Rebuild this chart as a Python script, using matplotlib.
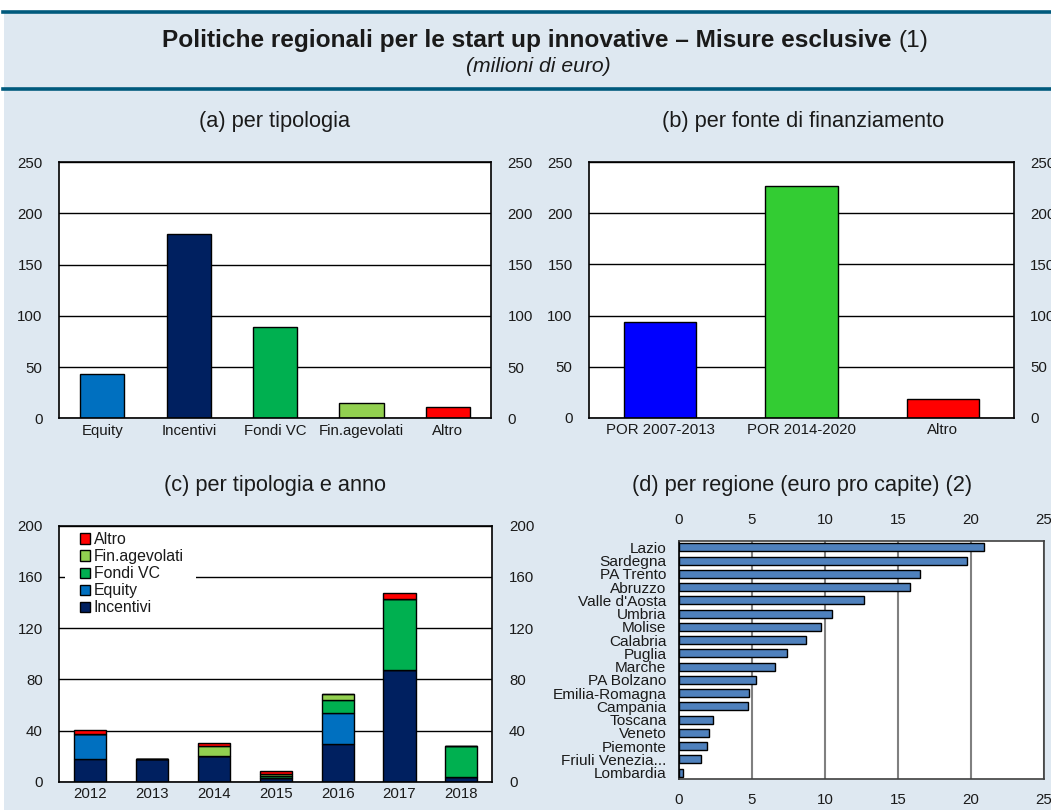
import matplotlib
matplotlib.use("Agg")
import matplotlib.pyplot as plt
from matplotlib.patches import Rectangle
from matplotlib.lines import Line2D
import numpy as np

plt.rcParams['font.family'] = ['Liberation Sans', 'DejaVu Sans']

# ---------------- data ----------------
tip_labels = ["Equity", "Incentivi", "Fondi VC", "Fin.agevolati", "Altro"]
tip_values = [43, 180, 89.5, 14.6, 10.7]

fonte_labels = ["POR 2007-2013", "POR 2014-2020", "Altro"]
fonte_values = [94, 226.5, 18.6]

anni = ["2012", "2013", "2014", "2015", "2016", "2017", "2018"]
anno_incentivi = [18, 17.7, 20, 2.6, 29.7, 87, 3.6]
anno_equity = [19.5, 0, 0, 0, 23.9, 0, 0]
anno_fondi_vc = [0, 0, 0, 1.5, 9.9, 56, 24.3]
anno_fin_agev = [0, 0, 7.8, 2.3, 4.7, 0, 0]
anno_altro = [3, 0, 2.3, 2.2, 0, 4.1, 0]

regioni = ["Lazio", "Sardegna", "PA Trento", "Abruzzo", "Valle d'Aosta", "Umbria",
           "Molise", "Calabria", "Puglia", "Marche", "PA Bolzano", "Emilia-Romagna",
           "Campania", "Toscana", "Veneto", "Piemonte", "Friuli Venezia...", "Lombardia"]
regioni_values = [20.9, 19.77, 16.54, 15.86, 12.7, 10.51, 9.76, 8.73, 7.43, 6.58,
                  5.3, 4.82, 4.75, 2.31, 2.03, 1.94, 1.49, 0.25]

# ---------------- styles ----------------
C_EQ = "#0070C0"
C_INC = "#002060"
C_FVC = "#00B050"
C_FIN = "#92D050"
C_ALT = "#FF0000"
BG = "#DEE8F1"
LINE = "#005A7D"
TXT = "#1a1a1a"

W, H = 1051, 810
fig = plt.figure(figsize=(W / 100, H / 100), dpi=100)
fig.patch.set_facecolor("white")


def rect(l, t, r, b):
    return [l / W, 1 - b / H, (r - l) / W, (b - t) / H]


# background
fig.patches.append(Rectangle((4 / W, 0), 1 - 4 / W, 1 - 12 / H, transform=fig.transFigure,
                             facecolor=BG, edgecolor="none", zorder=-10))
for yy in (12, 89):
    fig.lines.append(Line2D([3 / W, 1], [1 - yy / H, 1 - yy / H], transform=fig.transFigure,
                            color=LINE, lw=2.6, zorder=-5))

# main title: bold part + normal "(1)", centred as a whole at x=545
renderer = fig.canvas.get_renderer()
TFS = 17.6
tb = fig.text(0, 1 - 41 / H, "Politiche regionali per le start up innovative – Misure esclusive ",
              ha="left", va="center", fontsize=TFS, fontweight="bold", color=TXT)
tn = fig.text(0, 1 - 41 / H, "(1)", ha="left", va="center", fontsize=TFS, color=TXT)
wb = tb.get_window_extent(renderer).width
wn = tn.get_window_extent(renderer).width
x0 = 545 - (wb + wn) / 2
tb.set_x(x0 / W)
tn.set_x((x0 + wb) / W)
fig.text(538 / W, 1 - 66 / H, "(milioni di euro)", ha="center", va="center",
         fontsize=15.2, style="italic", color=TXT)

TICK_FS = 10.8
PT_FS = 15.7


def style_vbar(ax, ymax, step):
    ax.set_facecolor("white")
    ax.set_ylim(0, ymax)
    ticks = np.arange(0, ymax + 0.1, step)
    ax.set_yticks(ticks)
    ax.yaxis.grid(True, color="black", lw=1.0)
    ax.set_axisbelow(True)
    for s in ax.spines.values():
        s.set_color("black")
        s.set_linewidth(1.2)
    ax.tick_params(axis="y", length=0, pad=12, labelsize=TICK_FS, labelright=True, right=False,
                   labelcolor=TXT)
    ax.tick_params(axis="x", length=0, pad=4, labelsize=TICK_FS, labelcolor=TXT)


# (a)
ax_a = fig.add_axes(rect(59.3, 162.3, 491, 418.3))
xa = np.arange(len(tip_labels))
ax_a.bar(xa, tip_values, width=0.51, color=[C_EQ, C_INC, C_FVC, C_FIN, C_ALT],
         edgecolor="black", linewidth=1.0)
ax_a.set_xlim(-0.5, len(tip_labels) - 0.5)
ax_a.set_xticks(xa)
ax_a.set_xticklabels(tip_labels)
style_vbar(ax_a, 250, 50)
fig.text(275 / W, 1 - 121 / H, "(a) per tipologia", ha="center", va="center",
         fontsize=PT_FS, color=TXT)

# (b)
ax_b = fig.add_axes(rect(589.3, 162.3, 1013.7, 417.7))
xb = np.arange(len(fonte_labels))
ax_b.bar(xb, fonte_values, width=0.51, color=["#0000FF", "#33CC33", C_ALT],
         edgecolor="black", linewidth=1.0)
ax_b.set_xlim(-0.5, len(fonte_labels) - 0.5)
ax_b.set_xticks(xb)
ax_b.set_xticklabels(fonte_labels)
style_vbar(ax_b, 250, 50)
fig.text(803 / W, 1 - 121 / H, "(b) per fonte di finanziamento", ha="center", va="center",
         fontsize=PT_FS, color=TXT)

# (c)
ax_c = fig.add_axes(rect(59.3, 525.7, 492.3, 781.7))
xc = np.arange(len(anni))
series = [("Incentivi", anno_incentivi, C_INC), ("Equity", anno_equity, C_EQ),
          ("Fondi VC", anno_fondi_vc, C_FVC), ("Fin.agevolati", anno_fin_agev, C_FIN),
          ("Altro", anno_altro, C_ALT)]
bottom = np.zeros(len(anni))
handles = []
for name, vals, col in series:
    vals = np.array(vals, dtype=float)
    b = ax_c.bar(xc, vals, width=0.52, bottom=bottom, color=col, edgecolor="black",
                 linewidth=1.0, label=name, zorder=2)
    handles.append(b)
    bottom += vals
ax_c.set_xlim(-0.5, len(anni) - 0.5)
ax_c.set_xticks(xc)
ax_c.set_xticklabels(anni)
style_vbar(ax_c, 200, 40)
# white background behind the legend (hides the gridline there)
ax_c.add_patch(Rectangle(((65 - 59.3) / 433, 0.66), (196 - 65) / 433, 0.30,
                         transform=ax_c.transAxes, facecolor="white", edgecolor="none",
                         zorder=1))
leg = ax_c.legend(handles[::-1], [s[0] for s in series][::-1], loc="upper left",
                  bbox_to_anchor=((80 - 59.3) / 433, 0.975), fontsize=11.4, frameon=False,
                  handlelength=0.62, handleheight=0.62, handletextpad=0.25,
                  labelspacing=0.13, borderpad=0.0, borderaxespad=0.0)
for t in leg.get_texts():
    t.set_color(TXT)
fig.text(275 / W, 1 - 485 / H, "(c) per tipologia e anno", ha="center", va="center",
         fontsize=PT_FS, color=TXT)

# (d)
ax_d = fig.add_axes(rect(679, 540.7, 1043.7, 779.3))
yd = np.arange(len(regioni))
ax_d.barh(yd, regioni_values, height=0.6, color="#4F81BD", edgecolor="black", linewidth=1.0)
ax_d.set_ylim(len(regioni) - 0.5, -0.5)
ax_d.set_yticks(yd)
ax_d.set_yticklabels(regioni)
ax_d.set_xlim(0, 25)
ax_d.set_xticks(np.arange(0, 26, 5))
ax_d.xaxis.grid(True, color="#808080", lw=1.5)
ax_d.set_axisbelow(True)
ax_d.set_facecolor("white")
for k, s in ax_d.spines.items():
    s.set_color("#404040")
    s.set_linewidth(1.2)
ax_d.spines["left"].set_color("black")
ax_d.tick_params(axis="y", length=0, pad=9, labelsize=11.1, labelcolor=TXT)
ax_d.tick_params(axis="x", length=0, pad=10, labelsize=TICK_FS, labeltop=True, top=False,
                 labelcolor=TXT)
fig.text(802 / W, 1 - 485 / H, "(d) per regione (euro pro capite) (2)", ha="center",
         va="center", fontsize=PT_FS, color=TXT)

fig.savefig("out.png", dpi=100, facecolor=fig.get_facecolor())
